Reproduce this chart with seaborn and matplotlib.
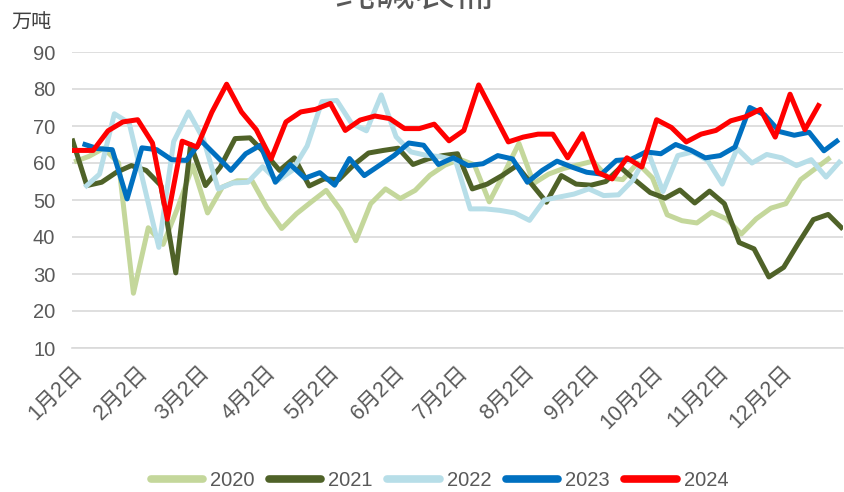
import numpy as np
import pandas as pd
import matplotlib
matplotlib.use("Agg")
import matplotlib.pyplot as plt
from matplotlib.lines import Line2D
import seaborn as sns

# ---------------- data ----------------
years = ["2020", "2021", "2022", "2023", "2024"]
colors = ["#C4D79B", "#4F6228", "#B7DEE8", "#0070C0", "#FF0000"]

# first observation date of each weekly series
start_2020 = "2020-01-03"
start_2021 = "2021-01-02"
start_2022 = "2022-01-08"
start_2023 = "2023-01-07"
start_2024 = "2024-01-05"
extra_first_2024 = "2024-01-02"

v2020 = [60.3, 61.8, 64.0, 60.0, 24.8, 42.5, 38.0, 48.0, 59.3, 46.5,
         53.5, 55.2, 55.2, 48.0, 42.3, 46.3, 49.5, 52.6, 47.2, 39.0,
         49.0, 53.0, 50.4, 52.6, 56.7, 59.4, 61.0, 59.5, 49.5, 57.2,
         65.3, 54.5, 57.0, 58.5, 59.5, 60.5, 56.0, 55.5, 60.0, 56.0,
         46.0, 44.4, 43.8, 46.7, 44.9, 40.8, 44.9, 47.8, 49.0, 55.5,
         58.5, 61.5]
v2021 = [66.6, 53.9, 54.8, 57.5, 59.3, 58.0, 53.9, 30.3, 65.0, 53.9,
         58.9, 66.6, 66.8, 62.7, 58.0, 61.4, 53.8, 55.7, 55.5, 59.5,
         62.7, 63.4, 64.0, 59.6, 61.1, 62.0, 62.5, 53.0, 54.3, 56.6,
         59.3, 54.3, 49.4, 56.6, 54.3, 54.0, 55.0, 58.8, 55.3, 52.0,
         50.5, 52.7, 49.2, 52.4, 49.0, 38.5, 36.8, 29.2, 31.8, 38.4,
         44.7, 46.1, 42.1]
v2022 = [53.4, 57.0, 73.3, 70.8, 54.0, 37.2, 65.8, 73.8, 66.5, 53.0,
         54.6, 54.8, 59.0, 55.2, 58.0, 64.6, 76.6, 76.9, 70.7, 68.7,
         78.4, 67.1, 63.0, 62.1, 61.7, 60.8, 47.6, 47.6, 47.2, 46.5,
         44.5, 50.0, 50.8, 51.6, 53.0, 51.2, 51.4, 55.5, 63.0, 52.3,
         62.0, 63.0, 60.7, 54.3, 63.9, 60.0, 62.3, 61.4, 59.3, 60.9,
         56.2, 60.7]
v2023 = [65.2, 63.9, 63.6, 50.3, 64.1, 63.6, 60.9, 60.7, 66.0, 62.0,
         58.0, 62.5, 64.8, 54.8, 59.6, 55.9, 57.4, 54.0, 61.2, 56.6,
         59.3, 62.0, 65.4, 64.8, 59.6, 61.4, 59.3, 59.8, 62.0, 61.1,
         54.8, 58.0, 60.5, 58.9, 57.5, 57.0, 60.7, 61.0, 63.0, 62.5,
         65.0, 63.5, 61.4, 62.0, 64.3, 75.0, 73.0, 68.5, 67.5, 68.3,
         63.3, 66.3]
v2024 = [63.4, 63.4, 63.4, 68.7, 71.1, 71.7, 65.4, 44.8, 65.9, 64.3,
         73.7, 81.3, 73.8, 69.0, 61.1, 71.1, 73.8, 74.5, 76.1, 68.8,
         71.6, 72.7, 72.0, 69.3, 69.3, 70.5, 66.0, 68.8, 81.1, 73.4,
         65.7, 67.0, 67.8, 67.8, 61.4, 67.9, 57.5, 55.7, 61.4, 58.9,
         71.7, 69.6, 65.7, 67.8, 68.8, 71.4, 72.5, 74.5, 67.0, 78.6,
         69.0, 76.1]

tick_months = list(range(1, 13))
tick_labels = [f"{m}月2日" for m in tick_months]


def weekly_dates(start, n):
    return list(pd.date_range(start, periods=n, freq="7D"))


dates = {
    "2020": weekly_dates(start_2020, len(v2020)),
    "2021": weekly_dates(start_2021, len(v2021)),
    "2022": weekly_dates(start_2022, len(v2022)),
    "2023": weekly_dates(start_2023, len(v2023)),
    "2024": [pd.Timestamp(extra_first_2024)] + weekly_dates(start_2024, len(v2024) - 1),
}
values = {"2020": v2020, "2021": v2021, "2022": v2022, "2023": v2023, "2024": v2024}

base = pd.Timestamp("2020-01-02")
frames = []
for y in years:
    d = pd.Series(dates[y])
    offs = (d - pd.Timestamp(f"{y}-01-02"))
    frames.append(pd.DataFrame({"date": base + offs, "value": values[y], "year": y}))
df = pd.concat(frames, ignore_index=True)

# ---------------- style ----------------
sns.set_style("white")
plt.rcParams["font.family"] = ["Liberation Sans", "Noto Sans CJK SC", "DejaVu Sans"]

grey_txt = "#595959"
grid_c = "#D9D9D9"

fig = plt.figure(figsize=(8.44, 4.92), dpi=100)
ax = fig.add_axes([72 / 844, 1 - 348 / 492, 771 / 844, 296 / 492])

sns.lineplot(data=df, x="date", y="value", hue="year", hue_order=years,
             palette=dict(zip(years, colors)), linewidth=3.6,
             estimator=None, sort=False, legend=False, ax=ax)
for ln in ax.get_lines():
    ln.set_solid_joinstyle("round")
    ln.set_solid_capstyle("butt")

ax.set_xlim(pd.Timestamp("2020-01-02"), pd.Timestamp("2020-12-31"))
ax.set_ylim(10, 90)
ax.set_yticks(np.arange(10, 91, 10))
ax.set_xticks([pd.Timestamp(2020, m, 2) for m in tick_months])
ax.set_xticklabels(tick_labels, rotation=45, ha="right", va="top",
                   rotation_mode="anchor")
ax.set_xlabel("")
ax.set_ylabel("")

ax.yaxis.grid(True, color=grid_c, linewidth=1.2)
ax.xaxis.grid(False)
ax.set_axisbelow(True)
for s in ["left", "right", "top"]:
    ax.spines[s].set_visible(False)
ax.spines["bottom"].set_color(grid_c)
ax.spines["bottom"].set_linewidth(1.2)

ax.tick_params(axis="y", length=0, pad=12, labelsize=14.5, labelcolor=grey_txt)
ax.tick_params(axis="x", length=6, width=1.2, color=grid_c, pad=4,
               labelsize=15.5, labelcolor=grey_txt)

fig.text(415 / 844, 1 + 5 / 492, "纯碱表需", ha="center", va="center",
         fontsize=29, color=grey_txt)
fig.text(31 / 844, 1 - 23 / 492, "万吨", ha="center", va="center",
         fontsize=14.5, color="#404040")

handles = [Line2D([0], [0], color=c, linewidth=5.5, solid_capstyle="round")
           for c in colors]
fig.legend(handles, years, loc="center", bbox_to_anchor=(439.5 / 844, 1 - 481 / 492),
           ncol=5, frameon=False, fontsize=14.5, handlelength=2.6,
           handletextpad=0.35, columnspacing=0.72, labelcolor=grey_txt,
           borderaxespad=0, borderpad=0)

fig.savefig("out.png", dpi=100)
